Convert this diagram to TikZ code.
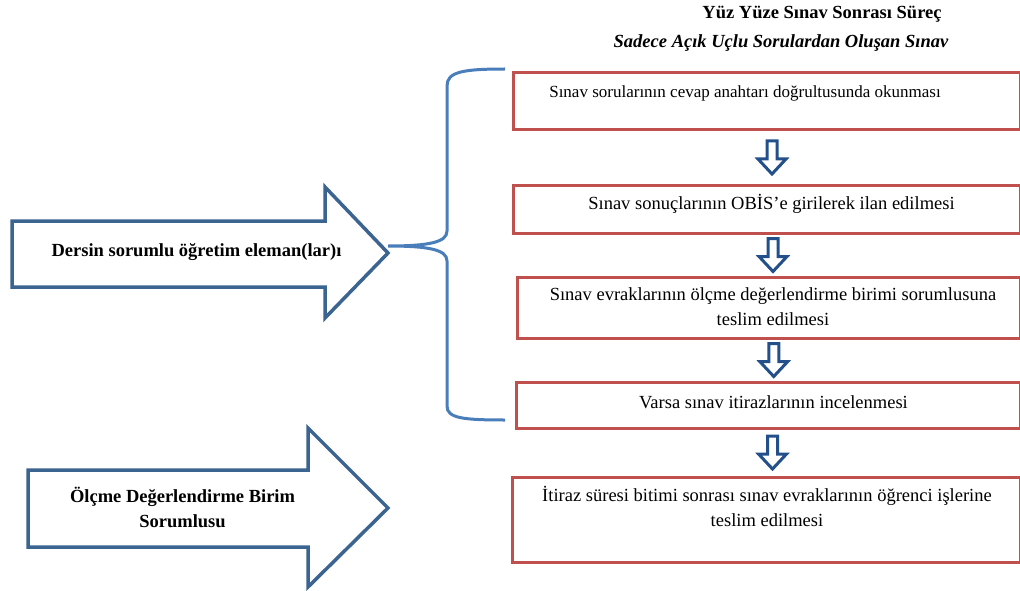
\documentclass[tikz,border=0pt]{standalone}
\usepackage{fontspec}
\setmainfont{Liberation Serif}
\usetikzlibrary{positioning,calc}

\definecolor{boxred}{HTML}{C0504D}
\definecolor{arrowblue}{HTML}{3B6491}
\definecolor{bracecolor}{HTML}{4A7EBB}
\definecolor{downblue}{HTML}{23508A}

\tikzset{
  procbox/.style={draw=boxred, line width=3pt, inner sep=0pt, outer sep=0pt},
  boxtext/.style={align=center, inner sep=0pt, font=\fontsize{18.5}{25}\selectfont},
  roletext/.style={align=center, inner sep=0pt, font=\fontsize{18.5}{25}\selectfont\bfseries},
  bigarrow/.style={draw=arrowblue, line width=3.5pt, line join=miter},
  flowarrow/.style={draw=downblue, line width=3pt, line join=miter},
  bracepath/.style={draw=bracecolor, line width=3pt}
}

\begin{document}
\begin{tikzpicture}[x=1pt, y=-1pt]

    % Fix the page to the size of the reference
    \useasboundingbox (0,0) rectangle (1020,591);

    % Titles
    \node[roletext] (title) at (822,14) {Yüz Yüze Sınav Sonrası Süreç};
    \node[roletext, font=\fontsize{18.5}{25}\selectfont\bfseries\itshape] (subtitle) at (781,43) {Sadece Açık Uçlu Sorulardan Oluşan Sınav};

    % The five steps (boxes run off the right edge)
    \node[procbox, minimum width=507pt, minimum height=57pt] (b1) at (766.5,101.5) {};
    \node[procbox, minimum width=507pt, minimum height=48pt] (b2) at (766.5,209) {};
    \node[procbox, minimum width=503pt, minimum height=61pt] (b3) at (768.5,307.5) {};
    \node[procbox, minimum width=504pt, minimum height=46pt] (b4) at (768,405) {};
    \node[procbox, minimum width=508pt, minimum height=85pt] (b5) at (766,519.5) {};

    % Texts sit near the top of each box
    \node[boxtext, font=\fontsize{17}{25}\selectfont] (t1) at (745,93) {Sınav sorularının cevap anahtarı doğrultusunda okunması};
    \node[boxtext] (t2) at (771.5,204) {Sınav sonuçlarının OBİS’e girilerek ilan edilmesi};
    \node[boxtext] (t3) at (773,306.5) {Sınav evraklarının ölçme değerlendirme birimi sorumlusuna\\teslim edilmesi};
    \node[boxtext] (t4) at (773.5,402) {Varsa sınav itirazlarının incelenmesi};
    \node[boxtext] (t5) at (767,506.5) {İtiraz süresi bitimi sonrası sınav evraklarının öğrenci işlerine\\teslim edilmesi};

    % Hollow down arrows between the steps
    \foreach \a/\b in {b1/b2, b2/b3, b3/b4, b4/b5} {
        \coordinate (m) at ($(\a.south)!0.5!(\b.north) + (5.5,0)$);
        \draw[flowarrow] ($(m)+(-5,-16.5)$) -- ++(10,0) -- ++(0,18) -- ++(9,0)
            -- ($(m)+(0,16.5)$) -- ($(m)+(-14,1.5)$) -- ++(9,0) -- cycle;
    }

    % First block arrow: the lecturer(s)
    \draw[bigarrow] (12,221) -- (325,221) -- (325,187) -- (388,253)
        -- (325,318) -- (325,287) -- (12,287) -- cycle;
    \coordinate (tipA) at (388,246);
    \node[roletext] (lecturer) at (196.5,252) {Dersin sorumlu öğretim eleman(lar)ı};

    % Second block arrow: the assessment unit officer
    \draw[bigarrow] (28,470) -- (308,470) -- (308,428) -- (388,508)
        -- (308,587) -- (308,547) -- (28,547) -- cycle;
    \node[roletext] (officer) at (182.5,507.5) {Ölçme Değerlendirme Birim\\Sorumlusu};

    % Curly brace from the first arrow to steps one to four
    \coordinate (braceTop) at (505,69);
    \coordinate (braceBot) at (505,420);
    \draw[bracepath] (braceTop) .. controls (462,69) and (447,72) .. (447,86)
        -- (447,231) .. controls (447,242) and (430,246) .. (tipA)
        .. controls (430,246) and (447,250) .. (447,261)
        -- (447,406) .. controls (447,418) and (462,420) .. (braceBot);

\end{tikzpicture}
\end{document}
